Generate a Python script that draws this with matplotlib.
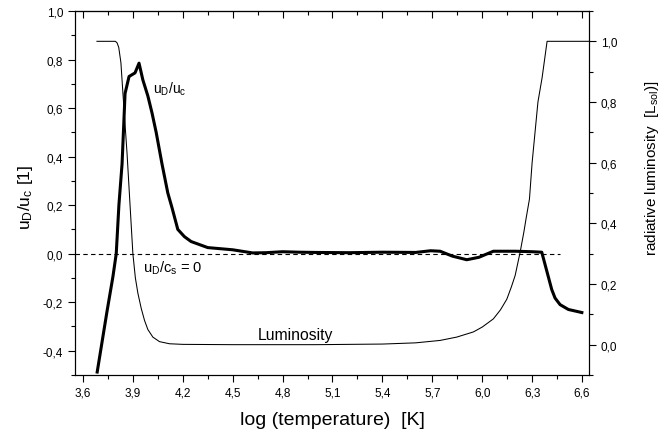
import matplotlib
matplotlib.use("Agg")
import matplotlib.pyplot as plt
from matplotlib.ticker import MultipleLocator, FuncFormatter

plt.rcParams['font.family'] = ['Liberation Sans', 'DejaVu Sans']
plt.rcParams['mathtext.default'] = 'regular'

# u_D/u_c (left axis)
ud_x = [3.684, 3.744, 3.78, 3.80, 3.816, 3.835, 3.853, 3.877, 3.913, 3.937,
        3.96, 3.99, 4.015, 4.04, 4.075, 4.11, 4.135, 4.17, 4.21, 4.25, 4.35, 4.50,
        4.62, 4.70, 4.80, 4.90, 5.00, 5.20, 5.40, 5.60, 5.69, 5.747, 5.82, 5.907,
        5.98, 6.067, 6.20, 6.30, 6.358, 6.418, 6.438, 6.468, 6.518, 6.608]
ud_y = [-0.494, -0.24, -0.095, 0.0, 0.2, 0.37, 0.66, 0.73, 0.745, 0.785,
        0.716, 0.65, 0.58, 0.50, 0.37, 0.25, 0.19, 0.10, 0.07, 0.05, 0.025, 0.016,
        0.003, 0.004, 0.008, 0.006, 0.005, 0.004, 0.006, 0.005, 0.012, 0.01,
        -0.01, -0.025, -0.015, 0.01, 0.01, 0.008, 0.006, -0.148, -0.183, -0.21,
        -0.23, -0.244]

# radiative luminosity (right axis)
lum_x = [3.684, 3.795, 3.805, 3.815, 3.828, 3.84, 3.865, 3.883, 3.90, 3.915,
         3.93, 3.95, 3.97, 3.99, 4.02, 4.06, 4.12, 4.2, 4.5, 5.0, 5.4, 5.6,
         5.747, 5.847, 5.947, 6.0, 6.067, 6.11, 6.148, 6.175, 6.198, 6.228,
         6.25, 6.265, 6.284, 6.30, 6.335, 6.36, 6.39, 6.642]
lum_y = [1.0, 1.0, 0.995, 0.98, 0.93, 0.83, 0.63, 0.46, 0.30, 0.22,
         0.17, 0.12, 0.08, 0.05, 0.025, 0.01, 0.003, 0.001, 0.0, 0.0, 0.002, 0.006,
         0.014, 0.025, 0.042, 0.058, 0.085, 0.115, 0.15, 0.19, 0.228, 0.305,
         0.37, 0.42, 0.48, 0.6, 0.8, 0.88, 1.0, 1.0]

zero_x = [3.552, 6.468]
zero_y = [0.0, 0.0]


def comma(v, pos):
    return f"{v:.1f}".replace(".", ",").replace("-0,0", "0,0")


fig = plt.figure(figsize=(6.63, 4.39), dpi=100)
ax = fig.add_axes([0.1131, 0.1435, 0.7753, 0.8292])
ax2 = ax.twinx()

ax.plot(ud_x, ud_y, color='black', lw=2.2, solid_capstyle='butt')
ax.plot(zero_x, zero_y, color='black', lw=0.8, ls=(0, (4, 3)))
ax2.plot(lum_x, lum_y, color='black', lw=0.75)

ax.set_xlim(3.552, 6.642)
ax.set_ylim(-0.5, 1.0)
ax2.set_ylim(-0.1, 1.1)

ax.xaxis.set_major_locator(MultipleLocator(0.3))
ax.xaxis.set_minor_locator(MultipleLocator(0.15))
ax.yaxis.set_major_locator(MultipleLocator(0.2))
ax.yaxis.set_minor_locator(MultipleLocator(0.1))
ax2.yaxis.set_major_locator(MultipleLocator(0.2))
ax2.yaxis.set_minor_locator(MultipleLocator(0.1))
for a in (ax.xaxis, ax.yaxis, ax2.yaxis):
    a.set_major_formatter(FuncFormatter(comma))

ax.tick_params(which='major', direction='out', length=5, width=0.8, labelsize=8.5)
ax.tick_params(which='minor', direction='out', length=3, width=0.8)
ax2.tick_params(which='major', direction='out', length=5, width=0.8, labelsize=8.5)
ax2.tick_params(which='minor', direction='out', length=3, width=0.8)

top = ax.secondary_xaxis('top')
top.xaxis.set_major_locator(MultipleLocator(0.3))
top.xaxis.set_minor_locator(MultipleLocator(0.15))
top.tick_params(which='major', direction='in', length=5, width=0.8, labeltop=False)
top.tick_params(which='minor', direction='in', length=3, width=0.8)

ax.set_xlabel("log (temperature)  [K]", fontsize=14, labelpad=9)
ax.set_ylabel("u$_D$/u$_c$ [1]", fontsize=12.5)
ax.yaxis.set_label_coords(-0.078, 0.49)
ax2.set_ylabel("radiative luminosity  [L$_{sol}$)]", fontsize=11)
ax2.yaxis.set_label_coords(1.105, 0.571)

ax.text(4.02, 0.68, "u$_D$/u$_c$", fontsize=10, va='center', ha='left')
ax.text(3.96, -0.055, "u$_D$/c$_s$ = 0", fontsize=10.5, va='center', ha='left')
ax.text(4.652, -0.333, "Luminosity", fontsize=11.3, va='center', ha='left')

fig.savefig("out.png", dpi=100)
